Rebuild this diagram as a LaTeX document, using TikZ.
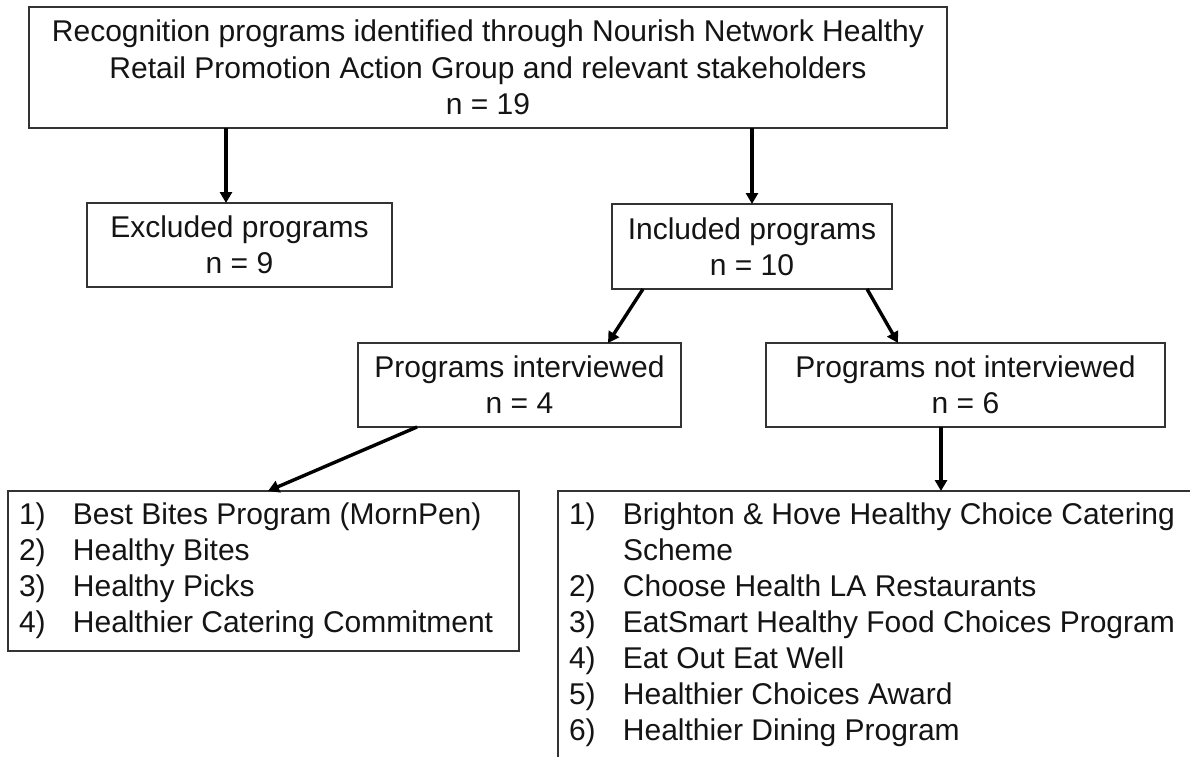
\documentclass[tikz,border=0pt]{standalone}
\usepackage{fontspec}
\setmainfont{Liberation Sans}
\usetikzlibrary{arrows.meta}
\definecolor{boxline}{RGB}{51,51,51}
\definecolor{boxtext}{RGB}{20,20,20}
\begin{document}
\begin{tikzpicture}[x=.5pt,y=-.5pt,
  box/.style={draw=boxline,line width=0.85pt,inner sep=0pt,outer sep=0pt,align=center,text=boxtext,font=\fontsize{15}{18}\selectfont},
  item/.style={inner sep=0pt,outer sep=0pt,anchor=base west,text=boxtext,font=\fontsize{15}{18}\selectfont},
  link/.style={draw=black,line width=1.7pt,-{Triangle[length=5.5pt,width=6pt]}}]
\path[use as bounding box,fill=white] (0,0) rectangle (1190,756);
\node[box,minimum width=459pt,minimum height=60.5pt,font=\fontsize{15}{18.25}\selectfont] (source) at (488,67.5) {Recognition programs identified through Nourish Network Healthy\\Retail Promotion Action Group and relevant stakeholders\\n = 19};
\node[box,minimum width=152.5pt,minimum height=42pt] (excluded) at (239.5,245) {Excluded programs\\n = 9};
\node[box,minimum width=140pt,minimum height=42.5pt] (included) at (752,246.5) {Included programs\\n = 10};
\node[box,minimum width=161.5pt,minimum height=42pt] (interviewed) at (519.5,385) {Programs interviewed\\n = 4};
\node[box,minimum width=199.5pt,minimum height=42pt] (notinterviewed) at (965.5,385) {Programs not interviewed\\n = 6};
\node[box,minimum width=255.5pt,minimum height=80pt] (listint) at (263.5,571) {};
\node[box,minimum width=321pt,minimum height=139.5pt] (listnot) at (879,630.5) {};
\foreach \t [count=\i] in {Best Bites Program (MornPen),Healthy Bites,Healthy Picks,Healthier Catering Commitment}
  \node[item] (int\i) at (19,488+36*\i) {\makebox[27pt][l]{\i)}\t};
\node[item] (notint1) at (569,524) {\makebox[27pt][l]{1)}Brighton \& Hove Healthy Choice Catering};
\node[item] (notint1b) at (623,560) {Scheme};
\foreach \t [count=\i from 2] in {Choose Health LA Restaurants,EatSmart Healthy Food Choices Program,Eat Out Eat Well,Healthier Choices Award,Healthier Dining Program}
  \node[item] (notint\i) at (569,524+36*\i) {\makebox[27pt][l]{\i)}\t};
\draw[link] (source.south -| 226,0) -- (226,0 |- excluded.north);
\draw[link] (source.south -| included.north) -- (included.north);
\draw[link] (included.south -| 643,0) -- (608,0 |- interviewed.north);
\draw[link] (included.south -| 867,0) -- (898,0 |- notinterviewed.north);
\draw[link] (interviewed.south -| 417,0) -- (268,0 |- listint.north);
\draw[link] (notinterviewed.south -| 941,0) -- (941,0 |- listnot.north);
\end{tikzpicture}
\end{document}
